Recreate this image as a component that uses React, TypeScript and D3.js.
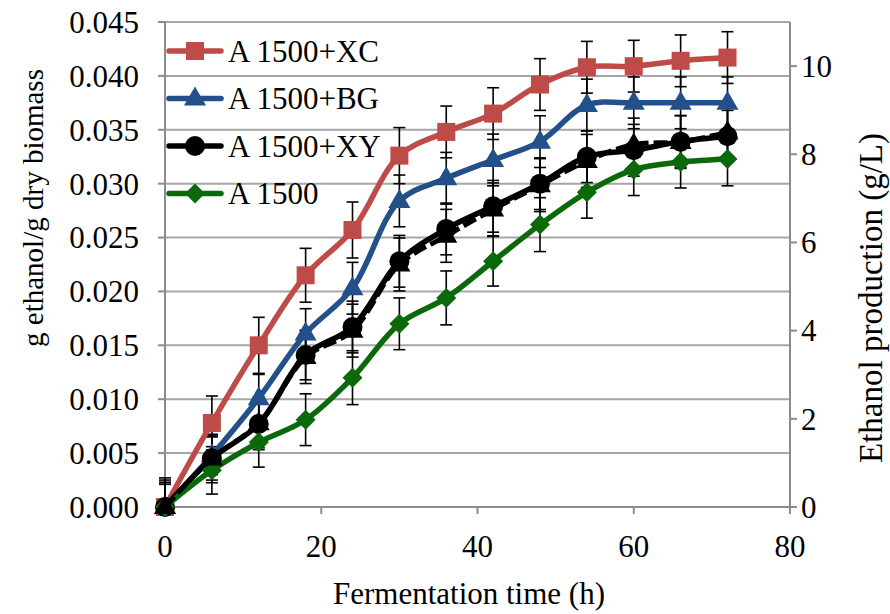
import React from "react";
import * as d3 from "d3";

const hours = [0, 6, 12, 18, 24, 30, 36, 42, 48, 54, 60, 66, 72];
const seriesNames = ["A 1500+XC", "A 1500+BG", "A 1500+XY", "A 1500"];
const xcValues = [0, 0.0078, 0.015, 0.0215, 0.0257, 0.0326, 0.0348, 0.0365, 0.0392, 0.0408, 0.0409, 0.0414, 0.0417];
const bgValues = [0, 0.0048, 0.0101, 0.0161, 0.0203, 0.0284, 0.0305, 0.0322, 0.0339, 0.0373, 0.0375, 0.0375, 0.0375];
const xyValues = [0, 0.0045, 0.0077, 0.0141, 0.0167, 0.0228, 0.0258, 0.0279, 0.03, 0.0325, 0.0331, 0.0339, 0.0344];
const a1500Values = [0, 0.0034, 0.006, 0.0081, 0.012, 0.017, 0.0194, 0.0228, 0.0262, 0.0292, 0.0313, 0.032, 0.0323];
const xcErrors = [0.0027, 0.0025, 0.0026, 0.0025, 0.0026, 0.0026, 0.0024, 0.0024, 0.0024, 0.0024, 0.0024, 0.0024, 0.0024];
const bgErrors = [0.0025, 0.0018, 0.0022, 0.0023, 0.0024, 0.0024, 0.0024, 0.0024, 0.0024, 0.0024, 0.0024, 0.0024, 0.0024];
const xyErrors = [0.0021, 0.002, 0.0022, 0.0023, 0.0024, 0.0024, 0.0024, 0.0024, 0.0024, 0.0024, 0.0024, 0.0024, 0.0024];
const a1500Errors = [0.0023, 0.0022, 0.0023, 0.0024, 0.0025, 0.0024, 0.0025, 0.0023, 0.0025, 0.0024, 0.0024, 0.0024, 0.0025];
const productionValues = [0, 1.1, 1.9, 3.4, 4.0, 5.5, 6.15, 6.75, 7.3, 7.85, 8.22, 8.28, 8.5];
const productionErrors = [0.55, 0.55, 0.6, 0.6, 0.6, 0.6, 0.6, 0.6, 0.6, 0.6, 0.6, 0.6, 0.6];
const leftTicks = [0, 0.005, 0.01, 0.015, 0.02, 0.025, 0.03, 0.035, 0.04, 0.045];
const rightTicks = [0, 2, 4, 6, 8, 10];
const xTicks = [0, 20, 40, 60, 80];

const W = 890, H = 614;
const L = 165, R = 790, T = 22, B = 507;
const FONT = "'Liberation Serif', 'Times New Roman', serif";
const FS = 31;

const x = d3.scaleLinear().domain([0, 80]).range([L, R]);
const yL = d3.scaleLinear().domain([0, 0.045]).range([B, T]);
const yR = d3.scaleLinear().domain([0, 11]).range([B, T]);

const colors = ["#BE4B48", "#23508A", "#000000", "#0B680B"];
const shapes = ["square", "triangle", "circle", "diamond"];
const values = [xcValues, bgValues, xyValues, a1500Values];
const errors = [xcErrors, bgErrors, xyErrors, a1500Errors];

function Marker({ shape, cx, cy, color }: { shape: string; cx: number; cy: number; color: string }) {
  if (shape === "square") return <rect x={cx - 9} y={cy - 9} width={18} height={18} fill={color} />;
  if (shape === "circle") return <circle cx={cx} cy={cy} r={10} fill={color} />;
  if (shape === "diamond") return <path d={`M${cx},${cy - 10}L${cx + 10},${cy}L${cx},${cy + 10}L${cx - 10},${cy}Z`} fill={color} />;
  return <path d={`M${cx},${cy - 12}L${cx + 11},${cy + 7}L${cx - 11},${cy + 7}Z`} fill={color} />;
}

function ErrorBars({ vals, errs, y }: { vals: number[]; errs: number[]; y: d3.ScaleLinear<number, number> }) {
  return (
    <g stroke="#000" strokeWidth={1.6} clipPath="url(#plotClip)">
      {hours.map((h, i) => {
        const cx = x(h);
        const top = y(vals[i] + errs[i]);
        const bot = y(vals[i] - errs[i]);
        return (
          <g key={i}>
            <line x1={cx} x2={cx} y1={top} y2={bot} />
            <line x1={cx - 6} x2={cx + 6} y1={top} y2={top} />
            <line x1={cx - 6} x2={cx + 6} y1={bot} y2={bot} />
          </g>
        );
      })}
    </g>
  );
}

export default function App() {
  const lineL = d3.line<number>().x((_, i) => x(hours[i])).y((v) => yL(v)).curve(d3.curveCatmullRom.alpha(0.5));
  const lineR = d3.line<number>().x((_, i) => x(hours[i])).y((v) => yR(v)).curve(d3.curveCatmullRom.alpha(0.5));
  return (
    <svg width={W} height={H} style={{ position: "absolute", left: 0, top: 0, background: "#fff" }} fontFamily={FONT}>
      <defs>
        <clipPath id="plotClip">
          <rect x={L - 20} y={0} width={R - L + 40} height={B} />
        </clipPath>
      </defs>
      <rect width={W} height={H} fill="#fff" />
      {/* gridlines */}
      {leftTicks.slice(1).map((t) => (
        <line key={t} x1={L} x2={R} y1={yL(t)} y2={yL(t)} stroke="#A6A6A6" strokeWidth={2} />
      ))}
      {/* axes */}
      <line x1={L} x2={L} y1={T} y2={B} stroke="#8C8C8C" strokeWidth={2} />
      <line x1={R} x2={R} y1={T} y2={B} stroke="#8C8C8C" strokeWidth={2} />
      <line x1={L} x2={R} y1={B} y2={B} stroke="#8C8C8C" strokeWidth={2} />
      {leftTicks.map((t) => (
        <g key={t}>
          <line x1={L - 7} x2={L} y1={yL(t)} y2={yL(t)} stroke="#8C8C8C" strokeWidth={2} />
          <text x={139} y={yL(t)} dy="0.35em" textAnchor="end" fontSize={FS} fill="#000">
            {d3.format(".3f")(t)}
          </text>
        </g>
      ))}
      {rightTicks.map((t) => (
        <g key={t}>
          <line x1={R} x2={R + 7} y1={yR(t)} y2={yR(t)} stroke="#8C8C8C" strokeWidth={2} />
          <text x={801} y={yR(t)} dy="0.35em" textAnchor="start" fontSize={FS} fill="#000">
            {t}
          </text>
        </g>
      ))}
      {xTicks.map((t) => (
        <g key={t}>
          <line x1={x(t)} x2={x(t)} y1={B} y2={B + 7} stroke="#8C8C8C" strokeWidth={2} />
          <text x={x(t)} y={557} textAnchor="middle" fontSize={FS} fill="#000">
            {t}
          </text>
        </g>
      ))}
      <text x={469} y={604} textAnchor="middle" fontSize={FS} fill="#000">Fermentation time (h)</text>
      <text transform={`translate(43,208) rotate(-90)`} textAnchor="middle" fontSize={29} fill="#000">g ethanol/g dry biomass</text>
      <text transform={`translate(882,298) rotate(-90)`} textAnchor="middle" fontSize={33} fill="#000">Ethanol production (g/L)</text>

      {/* error bars */}
      {values.map((v, s) => (
        <ErrorBars key={s} vals={v} errs={errors[s]} y={yL} />
      ))}
      <ErrorBars vals={productionValues} errs={productionErrors} y={yR} />

      {/* series lines and markers */}
      {values.map((v, s) => (
        <g key={s}>
          <path d={lineL(v) || ""} fill="none" stroke={colors[s]} strokeWidth={5.5} strokeLinejoin="round" />
          {v.map((val, i) => (
            <Marker key={i} shape={shapes[s]} cx={x(hours[i])} cy={yL(val)} color={colors[s]} />
          ))}
        </g>
      ))}
      <g>
        <path d={lineR(productionValues) || ""} fill="none" stroke="#000" strokeWidth={5} strokeDasharray="14,5" />
        {productionValues.map((val, i) => (
          <Marker key={i} shape="triangle" cx={x(hours[i])} cy={yR(val)} color="#000" />
        ))}
      </g>

      {/* legend */}
      {seriesNames.map((name, s) => {
        const ly = 51 + s * 47.5;
        return (
          <g key={name}>
            <line x1={169} x2={221} y1={ly} y2={ly} stroke={colors[s]} strokeWidth={5.5} strokeLinecap="round" />
            <Marker shape={shapes[s]} cx={195} cy={ly} color={colors[s]} />
            <text x={228} y={ly} dy="0.35em" fontSize={FS} fill="#000">{name}</text>
          </g>
        );
      })}
    </svg>
  );
}
